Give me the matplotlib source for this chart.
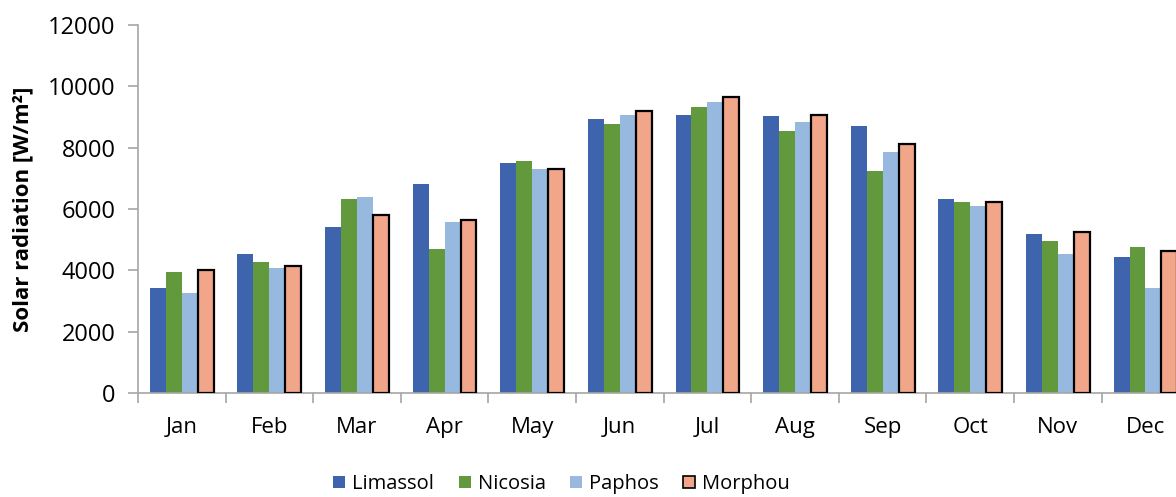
import matplotlib

matplotlib.use("Agg")
import matplotlib.pyplot as plt
import numpy as np
from matplotlib.patches import Patch

plt.rcParams["font.family"] = ["Open Sans", "DejaVu Sans"]

months = ["Jan", "Feb", "Mar", "Apr", "May", "Jun", "Jul", "Aug", "Sep", "Oct", "Nov", "Dec"]
limassol = [3410, 4540, 5400, 6820, 7500, 8930, 9060, 9030, 8690, 6320, 5180, 4450]
nicosia = [3935, 4280, 6320, 4690, 7570, 8780, 9310, 8540, 7230, 6240, 4970, 4770]
paphos = [3260, 4060, 6400, 5570, 7290, 9080, 9500, 8850, 7870, 6100, 4530, 3420]
morphou = [4010, 4150, 5820, 5650, 7300, 9180, 9650, 9050, 8130, 6220, 5240, 4640]

names = ["Limassol", "Nicosia", "Paphos", "Morphou"]
colors = ["#3D64AD", "#63993D", "#97B9E0", "#F1A589"]

fig = plt.figure(figsize=(11.76, 4.97), dpi=100)
ax = fig.add_axes([0.1173, 0.2093, 0.894, 0.7404])

x = np.arange(len(months)) + 0.5
w = 0.182
series = [limassol, nicosia, paphos, morphou]
for i, (vals, c) in enumerate(zip(series, colors)):
    off = (i - 1.5) * w
    if names[i] == "Morphou":
        ax.bar(x + off, vals, w, color=c, edgecolor="black", linewidth=1.6, zorder=3)
    else:
        ax.bar(x + off, vals, w, color=c, edgecolor="none", zorder=2)

ax.set_xlim(0, 12)
ax.set_ylim(0, 12000)
ax.set_yticks(range(0, 12001, 2000))
ax.set_xticks(range(0, 13))
ax.set_xticklabels([])
ax.set_xticks(x, minor=True)
ax.set_xticklabels(months, minor=True)
ax.tick_params(axis="x", which="minor", length=0, pad=17, labelsize=16)
ax.tick_params(axis="x", which="major", length=7, color="#A6A6A6", width=1.2)
ax.tick_params(axis="y", length=7, color="#A6A6A6", width=1.2, labelsize=17, pad=9)

for s in ["top", "right"]:
    ax.spines[s].set_visible(False)
for s in ["left", "bottom"]:
    ax.spines[s].set_color("#A6A6A6")
    ax.spines[s].set_linewidth(1.2)

ax.set_ylabel("Solar radiation [W/m²]", fontsize=16, fontweight="bold")
ax.yaxis.set_label_coords(-0.099, 0.5)

handles = [
    Patch(facecolor=c, edgecolor="black" if n == "Morphou" else "none", linewidth=1.2, label=n)
    for n, c in zip(names, colors)
]
fig.legend(handles=handles, loc="center", bbox_to_anchor=(0.4775, 0.026), ncol=4, frameon=False,
           fontsize=14.5, handlelength=0.6, handleheight=0.6, handletextpad=0.35, columnspacing=1.2)

fig.savefig("out.png", dpi=100)
